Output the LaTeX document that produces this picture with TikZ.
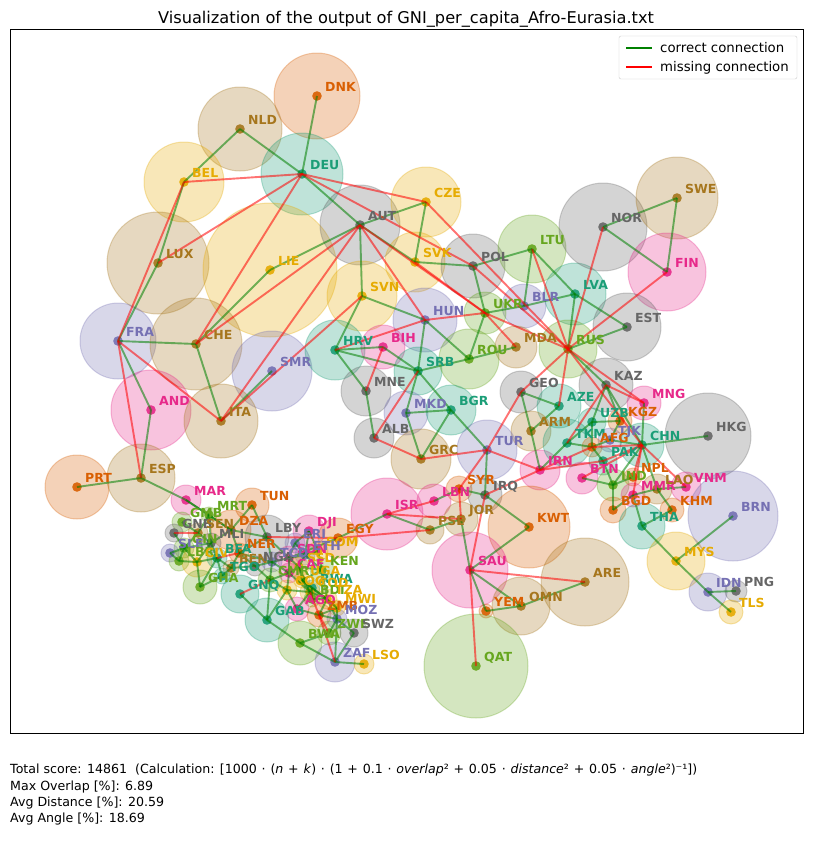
\documentclass[tikz,border=0pt]{standalone}
\usepackage{fontspec}
\setmainfont{DejaVu Sans}
\definecolor{cT}{HTML}{1B9E77}
\definecolor{cO}{HTML}{D95F02}
\definecolor{cP}{HTML}{7570B3}
\definecolor{cK}{HTML}{E7298A}
\definecolor{cG}{HTML}{66A61E}
\definecolor{cY}{HTML}{E6AB02}
\definecolor{cB}{HTML}{A6761D}
\definecolor{cA}{HTML}{666666}
\definecolor{okc}{HTML}{008000}
\definecolor{badc}{HTML}{FF0000}
\tikzset{
  okline/.style={okc, draw opacity=0.55, line width=1.9pt},
  badline/.style={badc, draw opacity=0.55, line width=1.9pt},
  lbl/.style={anchor=base west, inner sep=0pt, font=\fontsize{12.5}{14}\selectfont\bfseries},
  txt/.style={anchor=base west, inner sep=0pt, font=\fontsize{12.6}{15}\selectfont},
}
\newcommand\op[1]{\hspace{0.38em}#1\hspace{0.38em}}
\def\countries{%
DNK/317/96/43/cO, NLD/240/129/42/cB, BEL/184/182/40/cY, DEU/302/174/41/cT,
LUX/158/263/51/cB, LIE/270/270/67/cY, AUT/360/225/40/cA, CZE/426/202/35/cY,
SVK/415/262/30/cY, SVN/362/296/35/cY, HUN/425/320/32/cP, FRA/118/341/38/cP,
CHE/196/344/46/cB, SMR/272/371/40/cP, HRV/335/350/30/cT, BIH/383/347/22/cK,
SRB/418/371/24/cT, POL/473/266/32/cA, LTU/532/249/34/cG, LVA/575/294/31/cT,
NOR/603/227/44/cA, SWE/677/198/41/cB, FIN/667/272/39/cK, EST/627/327/34/cA,
BLR/524/306/22/cP, UKR/485/313/21/cG, MDA/516/347/21/cB, RUS/568/349/29/cG,
ROU/469/359/30/cG, MNE/366/391/25/cA, MKD/406/413/22/cP, BGR/451/410/25/cT,
ALB/374/438/20/cA, GRC/421/459/30/cB, AND/151/410/40/cK, ITA/221/421/37/cB,
ESP/141/478/34/cB, PRT/77/487/32/cO,
GEO/521/392/21/cA, AZE/559/406/22/cT, ARM/531/431/20/cB, TUR/487/450/30/cP,
IRN/540/470/20/cK, SYR/459/489/13/cO, LBN/434/501/17/cK, ISR/387/514/36/cK,
IRQ/485/495/17/cA, JOR/461/519/17/cB, PSE/430/530/14/cB, KWT/529/527/41/cO,
SAU/470/570/38/cK, ARE/585/582/44/cB, OMN/521/606/29/cB, YEM/486/611/7/cO,
QAT/476/666/52/cG, KAZ/606/385/27/cA, MNG/644/403/17/cK, UZB/592/422/14/cT,
KGZ/620/421/12/cO, TJK/610/440/12/cP, TKM/567/443/24/cT, AFG/592/447/10/cO,
CHN/642/445/22/cT, HKG/708/436/43/cA, PAK/603/461/14/cT, BTN/582/478/16/cK,
NPL/633/477/9/cO, IND/613/485/16/cG, MMR/633/495/12/cK, LAO/657/489/15/cB,
VNM/686/487/15/cK, BGD/613/510/13/cO, KHM/672/510/12/cO, THA/642/526/23/cT,
MYS/676/561/29/cY, BRN/733/516/45/cP, IDN/708/592/19/cP, PNG/736/591/11/cA,
TLS/731/612/12/cY,
MAR/186/500/15/cK, TUN/252/505/17/cO, MRT/209/515/8/cG, GMB/182/522/10/cG,
GNB/174/533/9/cA, SEN/198/533/10/cB, DZA/231/530/20/cO, MLI/211/543/10/cA,
LBY/267/537/22/cA, GIN/184/548/10/cG, SLE/170/553/9/cP, LBR/179/561/10/cG,
CIV/197/562/15/cY, BFA/217/558/10/cT, NER/239/553/10/cO, BEN/231/568/8/cB,
NGA/255/566/10/cA, TGO/222/576/8/cT, GHA/200/587/17/cG, DJI/309/531/16/cK,
ERI/295/543/10/cP, EGY/338/538/20/cO, SOM/318/551/10/cY, SDN/289/558/12/cK,
ETH/305/555/10/cP, TCD/272/562/10/cP, SSD/299/567/10/cY, KEN/322/570/12/cG,
CAF/289/573/10/cK, CMR/270/580/12/cG, UGA/302/580/8/cY, RWA/312/588/8/cT,
COG/287/590/10/cY, COD/310/592/10/cY, GNQ/240/594/19/cT, BDI/312/599/8/cG,
TZA/327/599/10/cY, AGO/297/609/12/cK, MWI/337/608/8/cY, ZMB/319/615/12/cO,
GAB/267/620/22/cT, MOZ/337/619/10/cP, ZWE/329/633/12/cG, SWZ/354/633/14/cA,
BWA/300/643/22/cG, ZAF/335/662/20/cP, LSO/364/664/10/cY}
\def\goodedges{%
DNK/DEU, NLD/DEU, NLD/BEL, BEL/LUX, LUX/FRA, DEU/AUT, AUT/CZE, AUT/LIE, LIE/CHE,
AUT/SVN, AUT/SVK, CZE/SVK, SVK/POL, POL/LTU, POL/UKR, LTU/LVA, LTU/BLR, LVA/EST,
LVA/RUS, LVA/BLR, UKR/BLR, NOR/SWE, NOR/FIN, SWE/FIN, EST/RUS, RUS/KAZ, UKR/ROU,
ROU/MDA, ROU/SRB, HUN/SRB, HUN/SVN, HUN/ROU, SVN/HRV, HRV/BIH, HRV/SRB, HRV/MNE,
BIH/SRB, SRB/MKD, SRB/BGR, MKD/BGR, MNE/ALB, GRC/MKD, GRC/BGR, TUR/BGR, TUR/IRQ,
FRA/CHE, FRA/AND, CHE/ITA, ITA/SMR, AND/ESP, ESP/PRT, ESP/MAR,
GEO/AZE, GEO/ARM, AZE/ARM, ARM/IRN, IRN/TKM, TKM/UZB, TKM/AFG, UZB/KGZ, UZB/AFG,
UZB/KAZ, KAZ/KGZ, KGZ/TJK, TJK/AFG, TJK/CHN, AFG/PAK, PAK/IND, KAZ/CHN, MNG/CHN,
CHN/HKG, CHN/IND, CHN/LAO, IND/BTN, IND/NPL, IND/BGD, BGD/MMR, MMR/THA, MMR/LAO,
LAO/VNM, LAO/KHM, THA/KHM, THA/MYS, MYS/BRN, MYS/IDN, IDN/PNG, IDN/TLS,
SYR/IRQ, LBN/SYR, ISR/EGY, ISR/PSE, PSE/JOR, JOR/SAU, IRQ/KWT, KWT/SAU, SAU/YEM,
SAU/OMN, YEM/OMN, OMN/ARE,
MAR/DZA, MAR/MRT, TUN/DZA, TUN/LBY, DZA/MRT, DZA/MLI, DZA/NER, DZA/LBY, MRT/SEN,
MRT/MLI, SEN/GMB, SEN/MLI, SEN/GIN, GIN/GNB, GIN/SLE, GIN/LBR, GIN/MLI, GIN/CIV,
LBR/SLE, LBR/CIV, CIV/MLI, CIV/BFA, CIV/GHA, BFA/MLI, BFA/GHA, BFA/TGO, BFA/BEN,
TGO/GHA, TGO/BEN, BEN/NER, BEN/NGA, NGA/NER, NGA/TCD, NGA/CMR, NER/TCD, NER/LBY,
LBY/TCD, LBY/SDN, EGY/SDN, SDN/TCD, SDN/CAF, SDN/SSD, SDN/ERI, SDN/ETH, ERI/ETH,
ERI/DJI, DJI/ETH, DJI/SOM, ETH/SOM, ETH/KEN, ETH/SSD, SOM/KEN, KEN/SSD, KEN/UGA,
KEN/TZA, SSD/UGA, SSD/CAF, SSD/COD, TCD/CAF, TCD/CMR, CMR/CAF, CMR/GAB, CMR/COG,
GNQ/GAB, GAB/COG, COG/CAF, COG/COD, COG/AGO, COD/CAF, COD/UGA, COD/RWA, COD/BDI,
COD/TZA, COD/AGO, UGA/RWA, UGA/TZA, RWA/BDI, RWA/TZA, BDI/TZA, TZA/ZMB, TZA/MWI,
TZA/MOZ, MWI/ZMB, MWI/MOZ, ZMB/AGO, ZMB/MOZ, ZWE/MOZ, ZWE/BWA, ZAF/BWA, ZAF/LSO,
ZAF/SWZ, ZAF/MOZ, SWZ/MOZ, GAB/BWA}
\def\badedges{%
DEU/BEL, DEU/LUX, DEU/CZE, DEU/POL, DEU/CHE, AUT/CHE, AUT/ITA, AUT/HUN, AUT/UKR,
FRA/BEL, FRA/ESP, FRA/ITA, ITA/SVN, HRV/HUN, BIH/MNE, ALB/SRB, HUN/UKR, SVK/UKR,
UKR/MDA, CZE/RUS, POL/RUS, LTU/RUS, NOR/RUS, FIN/RUS, UKR/RUS, GEO/RUS, AZE/RUS,
RUS/MNG, RUS/CHN, GRC/ALB, GRC/TUR, TUR/GEO, TUR/IRN, TUR/SYR, IRQ/IRN, IRQ/SAU,
SYR/JOR, ISR/LBN, ISR/JOR, SAU/ARE, SAU/QAT, IRN/AFG, IRN/PAK, KAZ/TKM, KAZ/MNG,
CHN/AFG, CHN/NPL, CHN/BTN, CHN/MMR, CHN/VNM, CHN/PAK, EGY/PSE, LBY/EGY, GNQ/CMR,
ZMB/ZAF, ZMB/COD, ZMB/ZWE, GNB/SEN, BFA/NER}
\begin{document}
\begin{tikzpicture}[x=1pt,y=-1pt]
\useasboundingbox (0,0) rectangle (812,849);
\fill[white] (0,0) rectangle (812,849);
% title
\node[anchor=base, inner sep=0pt, font=\fontsize{16.2}{19}\selectfont] (title) at (406,23) {Visualization of the output of GNI\_per\_capita\_Afro-Eurasia.txt};
% countries
\foreach \n/\px/\py/\rr/\cc in \countries {\coordinate (\n) at (\px,\py);}
\foreach \n/\px/\py/\rr/\cc in \countries {
  \fill[\cc, fill opacity=0.28] (\n) circle[radius=\rr];
  \draw[\cc, draw opacity=0.3, line width=1pt] (\n) circle[radius=\rr];
}
\foreach \n/\px/\py/\rr/\cc in \countries {\fill[\cc, opacity=0.9] (\n) circle[radius=4.8];}
\foreach \a/\b in \goodedges {\draw[okline] (\a) -- (\b);}
\foreach \a/\b in \badedges {\draw[badline] (\a) -- (\b);}
\foreach \n/\px/\py/\rr/\cc in \countries {\node[lbl, text=\cc] (L\n) at ([shift={(8,-5)}]\n) {\n};}
% frame
\draw[black, line width=0.9pt] (10,29) rectangle (803,733);
% legend
\draw[rounded corners=2pt, draw=black!20, fill=white, fill opacity=0.8] (619,36) rectangle (797,79);
\coordinate (g1) at (626,48); \coordinate (g2) at (652,48);
\coordinate (r1) at (626,67); \coordinate (r2) at (652,67);
\draw[okc, line width=1.3pt] (g1) -- (g2);
\draw[badc, line width=1.3pt] (r1) -- (r2);
\node[anchor=base west, inner sep=0pt, font=\fontsize{13.3}{15}\selectfont] (lg1) at (660,52.5) {correct connection};
\node[anchor=base west, inner sep=0pt, font=\fontsize{13.3}{15}\selectfont] (lg2) at (660,71.5) {missing connection};
% bottom text
\node[txt] (t1) at (10,773) {Total score: 14861\ \ (Calculation: [1000\op{·}(\textit{n}\op{+}\textit{k})\op{·}(1\op{+}0.1\op{·}\textit{overlap}²\op{+}0.05\op{·}\textit{distance}²\op{+}0.05\op{·}\textit{angle}²)⁻¹])};
\node[txt] (t2) at (10,790) {Max Overlap [\%]: 6.89};
\node[txt] (t3) at (10,806) {Avg Distance [\%]: 20.59};
\node[txt] (t4) at (10,822) {Avg Angle [\%]: 18.69};
\end{tikzpicture}
\end{document}
